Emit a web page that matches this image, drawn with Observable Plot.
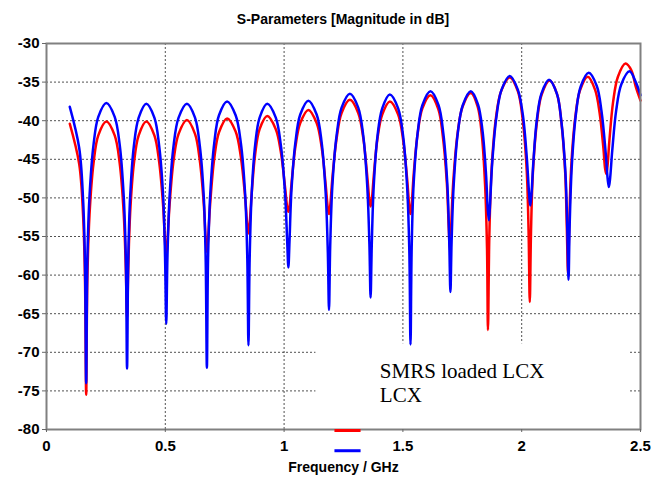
<!DOCTYPE html>
<html><head><meta charset="utf-8">
<script src="https://cdn.jsdelivr.net/npm/d3@7"></script>
<script src="https://cdn.jsdelivr.net/npm/@observablehq/plot@0.6"></script>
<style>
body{margin:0;background:#fff;width:666px;height:480px;overflow:hidden}
#title{height:19px;padding-top:11px;font:bold 14px "Liberation Sans",Arial,sans-serif;line-height:17px;text-align:center;padding-left:46px;padding-right:26px;color:#000;}
</style></head><body>
<div id="title">S-Parameters [Magnitude in dB]</div>
<div id="chart"></div>
<script>
const xTicks = [0, 0.5, 1, 1.5, 2, 2.5];
const yTicks = [-80, -75, -70, -65, -60, -55, -50, -45, -40, -35, -30];
const seriesNames = ["SMRS loaded LCX", "LCX"];
const seriesColors = ["#ff0000", "#0000ff"];
const xLabel = "Frequency / GHz";

// SMRS loaded LCX (red)
const redFreq = [0.098,0.1375,0.154,0.162,0.167,
0.172,0.181,0.198,0.218,0.252,0.287,0.308,0.325,0.334,0.339,
0.344,0.352,0.368,0.388,0.420,0.454,0.474,0.491,0.499,0.504,
0.509,0.518,0.535,0.556,0.591,0.625,0.645,0.662,0.670,0.675,
0.680,0.689,0.706,0.726,0.760,0.796,0.818,0.836,0.845,0.850,
0.855,0.863,0.878,0.897,0.929,0.965,0.986,1.004,1.013,1.018,
1.023,1.031,1.048,1.068,1.102,1.137,1.158,1.175,1.184,1.189,
1.194,1.203,1.221,1.242,1.277,1.312,1.333,1.350,1.359,1.364,
1.369,1.377,1.393,1.413,1.445,1.480,1.501,1.518,1.527,1.532,
1.537,1.545,1.562,1.582,1.616,1.649,1.668,1.685,1.693,1.698,
1.703,1.712,1.730,1.751,1.786,1.815,1.832,1.846,1.854,1.858,
1.864,1.873,1.891,1.913,1.950,1.984,2.004,2.021,2.029,2.034,
2.039,2.047,2.064,2.084,2.118,2.149,2.167,2.183,2.190,2.195,
2.200,2.208,2.225,2.245,2.278,2.309,2.328,2.344,2.351,2.356,
2.361,2.369,2.385,2.405,2.437,2.462,2.480,2.500];
const redDb = [-40.4,-45.6,-52.3,-60.6,-75.5,
-60.5,-52.2,-45.5,-41.9,-40.1,-41.9,-45.5,-52.0,-59.4,-65.5,
-59.4,-52.0,-45.5,-41.9,-40.1,-41.9,-45.3,-51.1,-55.8,-57.5,
-55.7,-50.9,-45.1,-41.7,-39.9,-41.7,-45.1,-50.8,-55.4,-57.0,
-55.3,-50.7,-44.9,-41.5,-39.7,-41.4,-44.7,-49.9,-53.5,-54.6,
-53.4,-49.7,-44.4,-41.1,-39.4,-41.1,-44.0,-48.6,-51.2,-51.8,
-51.1,-48.2,-43.3,-40.3,-38.6,-40.3,-43.4,-48.3,-51.3,-52.1,
-51.1,-47.5,-42.3,-39.0,-37.3,-39.0,-42.2,-47.2,-50.3,-51.1,
-50.3,-47.3,-42.3,-39.2,-37.5,-39.2,-42.5,-47.6,-51.1,-52.1,
-50.9,-47.1,-41.7,-38.4,-36.7,-38.5,-42.0,-48.1,-53.9,-56.8,
-53.8,-47.9,-41.7,-38.2,-36.4,-38.2,-41.8,-48.4,-56.5,-67.1,
-54.6,-46.5,-39.8,-36.2,-34.4,-36.2,-39.8,-46.4,-54.4,-63.5,
-54.7,-46.8,-40.2,-36.6,-34.8,-36.6,-40.2,-46.7,-54.0,-59.8,
-53.6,-46.2,-39.7,-36.1,-34.3,-36.0,-39.0,-43.6,-46.2,-46.9,
-45.9,-42.6,-37.5,-34.3,-32.6,-33.5,-35.6,-37.4];

// LCX (blue)
const blueFreq = [0.098,0.1375,0.154,0.162,0.167,
0.172,0.181,0.198,0.218,0.252,0.287,0.308,0.325,0.334,0.339,
0.344,0.352,0.368,0.388,0.420,0.454,0.474,0.491,0.499,0.504,
0.509,0.518,0.535,0.556,0.591,0.625,0.645,0.662,0.670,0.675,
0.680,0.689,0.706,0.726,0.760,0.796,0.818,0.836,0.845,0.850,
0.855,0.863,0.878,0.897,0.929,0.965,0.986,1.004,1.013,1.018,
1.023,1.031,1.048,1.068,1.102,1.137,1.158,1.175,1.184,1.189,
1.194,1.203,1.221,1.242,1.277,1.312,1.333,1.350,1.359,1.364,
1.369,1.377,1.393,1.413,1.445,1.480,1.501,1.518,1.527,1.532,
1.537,1.545,1.562,1.582,1.616,1.650,1.670,1.687,1.695,1.700,
1.705,1.714,1.731,1.752,1.786,1.816,1.835,1.850,1.857,1.862,
1.867,1.876,1.894,1.915,1.950,1.984,2.005,2.022,2.031,2.036,
2.041,2.049,2.064,2.083,2.115,2.148,2.167,2.184,2.192,2.197,
2.202,2.211,2.228,2.248,2.282,2.316,2.336,2.353,2.362,2.367,
2.372,2.381,2.398,2.419,2.454,2.480,2.500];
const blueDb = [-38.2,-43.5,-50.2,-58.5,-74.0,
-58.1,-49.8,-43.1,-39.5,-37.7,-39.5,-43.1,-49.8,-58.0,-72.1,
-58.1,-49.9,-43.2,-39.6,-37.8,-39.6,-43.2,-49.8,-57.7,-66.3,
-57.7,-49.8,-43.2,-39.6,-37.8,-39.6,-43.2,-49.9,-58.1,-72.0,
-57.8,-49.6,-42.9,-39.3,-37.5,-39.3,-42.9,-49.5,-57.7,-69.1,
-58.0,-49.8,-43.2,-39.6,-37.8,-39.6,-43.1,-49.4,-55.6,-59.0,
-55.4,-49.0,-42.7,-39.2,-37.4,-39.2,-42.8,-49.4,-57.0,-64.5,
-56.3,-48.5,-41.9,-38.3,-36.5,-38.3,-41.9,-48.5,-56.0,-62.9,
-56.1,-48.6,-42.0,-38.4,-36.6,-38.4,-42.0,-48.7,-56.8,-69.0,
-56.4,-48.3,-41.6,-38.0,-36.2,-38.0,-41.6,-48.2,-55.6,-62.2,
-55.6,-48.2,-41.6,-38.0,-36.2,-37.9,-41.3,-47.0,-51.4,-52.9,
-50.7,-45.4,-39.4,-36.0,-34.2,-36.0,-39.3,-45.0,-49.4,-51.0,
-49.6,-45.4,-39.8,-36.5,-34.7,-36.5,-40.1,-46.7,-54.1,-60.6,
-53.4,-45.8,-39.2,-35.6,-33.8,-35.5,-38.8,-44.0,-47.6,-48.6,
-47.5,-43.9,-38.6,-35.3,-33.6,-35.0,-36.7];

const red = redFreq.map((f, i) => ({f, db: redDb[i]}));
const blue = blueFreq.map((f, i) => ({f, db: blueDb[i]}));

// legend layout (in plot coordinates)
const legendBox = {x1: 1.134, x2: 2.458, y1: -80, y2: -68.9};
const legendText = [
  {x: 1.403, y: -72.4, t: seriesNames[0]},
  {x: 1.403, y: -75.6, t: seriesNames[1]}
];
const legendSwatch = [
  {x1: 1.214, x2: 1.324, y: -80.13, c: seriesColors[0]},
  {x1: 1.214, x2: 1.324, y: -82.75, c: seriesColors[1]}
];

const grid = {stroke: "#333", strokeOpacity: 0.85, strokeDasharray: "2,2", strokeWidth: 1};

const chart = Plot.plot({
  width: 666, height: 450,
  marginTop: 13, marginBottom: 51, marginLeft: 46, marginRight: 26,
  style: {fontFamily: '"Liberation Sans", Arial, sans-serif', fontWeight: "bold", fontSize: "15px", color: "#000", background: "#fff", overflow: "visible"},
  x: {domain: [0, 2.5]},
  y: {domain: [-80, -30]},
  marks: [
    Plot.gridX(xTicks.slice(1, -1), grid),
    Plot.gridY(yTicks.slice(1, -1), grid),
    Plot.rect([legendBox], {x1: "x1", x2: "x2", y1: "y1", y2: "y2", fill: "#fff"}),
    Plot.line(red, {x: "f", y: "db", stroke: seriesColors[0], strokeWidth: 2.5, curve: "catmull-rom"}),
    Plot.line(blue, {x: "f", y: "db", stroke: seriesColors[1], strokeWidth: 2.5, curve: "catmull-rom"}),
    Plot.frame({stroke: "#808080", strokeWidth: 2}),
    Plot.axisX(xTicks, {tickSize: 3, tickPadding: 8, stroke: "#666", tickFormat: d => String(d), label: null, fontWeight: "bold", fontSize: 15}),
    Plot.axisY(yTicks, {tickSize: 4, tickPadding: 3, stroke: "#666", tickFormat: d => String(d), label: null, fontWeight: "bold", fontSize: 15}),
    Plot.text([xLabel], {frameAnchor: "bottom", dy: 42.5, text: d => d, fontSize: 14, fontWeight: "bold"}),
    Plot.text(legendText, {x: "x", y: "y", text: "t", textAnchor: "start", fontFamily: '"Liberation Serif", "Times New Roman", serif', fontWeight: "normal", fontSize: 21, fill: "#000"}),
    Plot.ruleY(legendSwatch.slice(0, 1), {y: "y", x1: "x1", x2: "x2", stroke: seriesColors[0], strokeWidth: 3}),
    Plot.ruleY(legendSwatch.slice(1, 2), {y: "y", x1: "x1", x2: "x2", stroke: seriesColors[1], strokeWidth: 3})
  ]
});
document.getElementById("chart").appendChild(chart);
</script>
</body></html>
